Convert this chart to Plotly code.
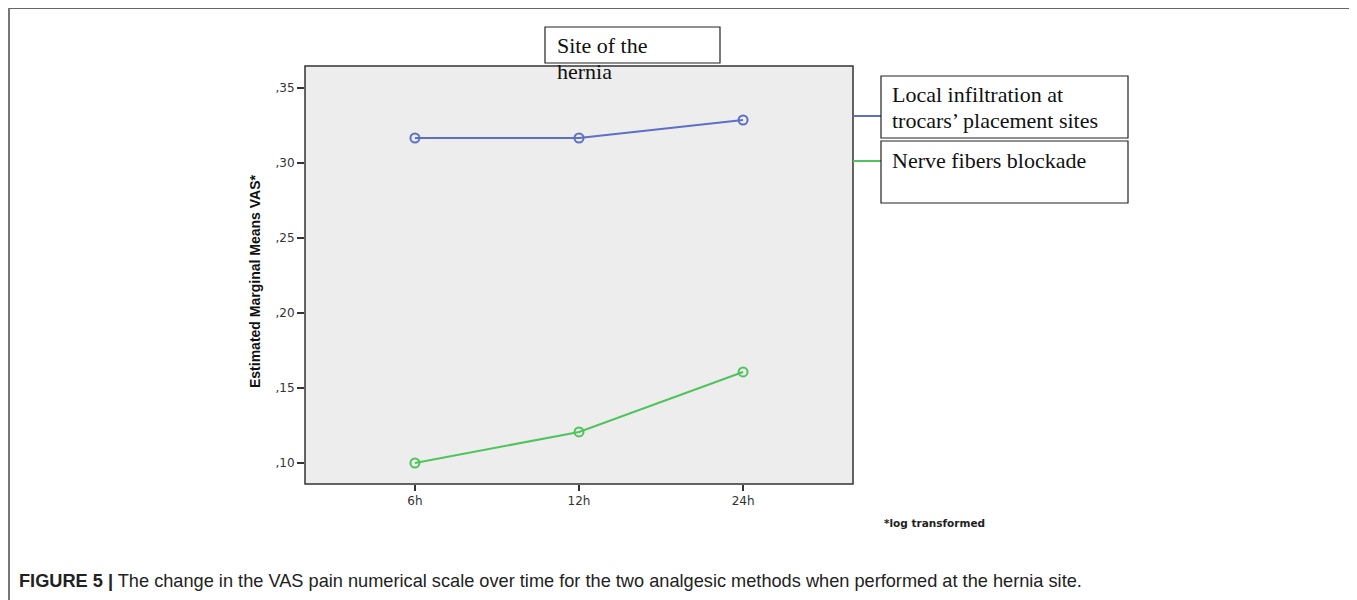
import plotly.graph_objects as go

# ---- data ----
time_points = ["6h", "12h", "24h"]
local_infiltration = [0.3167, 0.3167, 0.3287]
nerve_blockade = [0.1000, 0.1207, 0.1607]
y_tick_vals = [0.10, 0.15, 0.20, 0.25, 0.30, 0.35]
y_tick_text = [",10", ",15", ",20", ",25", ",30", ",35"]
series_names = [["Local infiltration at", "trocars’ placement sites"], ["Nerve fibers blockade"]]
legend_title = ["Site of the", "hernia"]
y_title = "Estimated Marginal Means VAS*"
footnote = "*log transformed"
caption = "<b>FIGURE 5 |</b> The change in the VAS pain numerical scale over time for the two analgesic methods when performed at the hernia site."

BLUE = "#5d70c6"
GREEN = "#4fc45c"

OFF = 8  # page body margin
W, H = 1357 - OFF, 600 - OFF
L, R, T, B = 305 - OFF, 853 - OFF, 66 - OFF, 484 - OFF  # plot area in figure pixels


def px(x):
    x = x - OFF
    return (x - L) / (R - L)


def py(y):
    y = y - OFF
    return (B - y) / (B - T)


fig = go.Figure()
fig.add_trace(go.Scatter(
    x=[0, 1, 2], y=local_infiltration, mode="lines+markers",
    line=dict(color=BLUE, width=2),
    marker=dict(symbol="circle-open", size=9, color=BLUE, line=dict(width=2)),
    showlegend=False, name="Local infiltration"))
fig.add_trace(go.Scatter(
    x=[0, 1, 2], y=nerve_blockade, mode="lines+markers",
    line=dict(color=GREEN, width=2),
    marker=dict(symbol="circle-open", size=9, color=GREEN, line=dict(width=2)),
    showlegend=False, name="Nerve fibers blockade"))

shapes = []
# outer frame (top, left, right)
shapes.append(dict(type="line", xref="paper", yref="paper", x0=px(8), x1=px(1355), y0=py(8), y1=py(8),
                   line=dict(color="#666", width=2)))
shapes.append(dict(type="line", xref="paper", yref="paper", x0=px(9), x1=px(9), y0=py(8), y1=py(610),
                   line=dict(color="#777", width=2)))
shapes.append(dict(type="line", xref="paper", yref="paper", x0=px(1355), x1=px(1355), y0=py(8), y1=py(610),
                   line=dict(color="#777", width=2)))
# plot border
shapes.append(dict(type="rect", xref="paper", yref="paper", x0=0, x1=1, y0=0, y1=1,
                   line=dict(color="#333", width=1.5)))
# legend swatches
shapes.append(dict(type="line", xref="paper", yref="paper", x0=px(853), x1=px(881), y0=py(116), y1=py(116),
                   line=dict(color=BLUE, width=2)))
shapes.append(dict(type="line", xref="paper", yref="paper", x0=px(853), x1=px(881), y0=py(161), y1=py(161),
                   line=dict(color=GREEN, width=2)))
# legend boxes
for (x0, y0, x1, y1) in [(545, 27, 720, 63), (881, 76, 1128, 138), (881, 141, 1128, 203)]:
    shapes.append(dict(type="rect", xref="paper", yref="paper", x0=px(x0), x1=px(x1), y0=py(y1), y1=py(y0),
                       line=dict(color="#222", width=1.2), fillcolor="white", layer="above"))

serif = "Liberation Serif, DejaVu Serif, serif"
ann = []
text_lines = [
    (legend_title[0], 555, 46), (legend_title[1], 555, 72),
    (series_names[0][0], 890, 95), (series_names[0][1], 890, 121),
    (series_names[1][0], 890, 160),
]
for txt, x, y in text_lines:
    ann.append(dict(xref="paper", yref="paper", x=px(x), y=py(y), xanchor="left", yanchor="middle",
                    text=txt, showarrow=False, align="left",
                    font=dict(family=serif, size=22, color="#111")))
ann.append(dict(xref="paper", yref="paper", x=px(255), y=py(282), xanchor="center", yanchor="middle",
                text="<b>" + y_title + "</b>", textangle=-90, showarrow=False,
                font=dict(family="Liberation Sans Narrow, Arial Narrow, Liberation Sans, sans-serif",
                          size=14, color="#111")))
ann.append(dict(xref="paper", yref="paper", x=px(882), y=py(523), xanchor="left", yanchor="middle",
                text="<b>" + footnote + "</b>", showarrow=False,
                font=dict(family="DejaVu Sans, sans-serif", size=10.5, color="#222")))
ann.append(dict(xref="paper", yref="paper", x=px(17), y=py(581), xanchor="left", yanchor="middle",
                text=caption, showarrow=False,
                font=dict(family="Liberation Sans, Arial, sans-serif", size=18.2, color="#222")))

tickfont = dict(family="DejaVu Sans, sans-serif", size=12, color="#333")
fig.update_layout(
    width=W, height=H, autosize=False,
    margin=dict(l=L, r=W - R, t=T, b=H - B, pad=0),
    paper_bgcolor="white", plot_bgcolor="#ededed",
    shapes=shapes, annotations=ann,
    xaxis=dict(range=[-0.67, 2.67], tickvals=[0, 1, 2], ticktext=time_points,
               showgrid=False, zeroline=False, ticks="outside", ticklen=6, tickwidth=1.5, tickcolor="#333",
               tickfont=tickfont, showline=False, fixedrange=True),
    yaxis=dict(range=[0.086, 0.3647], tickvals=y_tick_vals, ticktext=y_tick_text,
               showgrid=False, zeroline=False, ticks="outside", ticklen=7, tickwidth=1.5, tickcolor="#333",
               tickfont=tickfont, showline=False, fixedrange=True),
)

fig.write_html("out.html")
